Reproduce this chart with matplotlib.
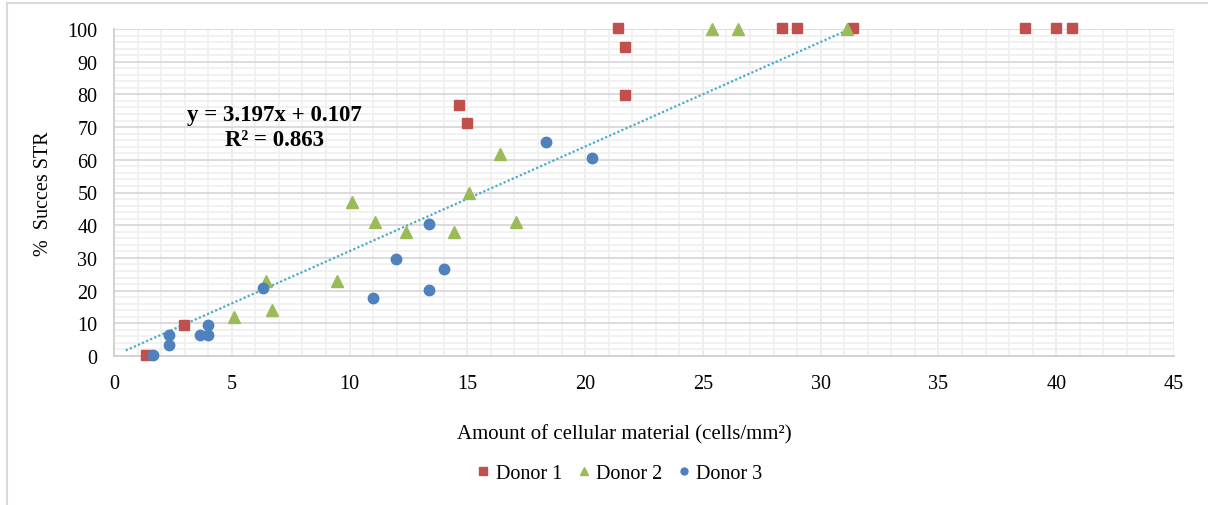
import matplotlib
matplotlib.use("Agg")
import matplotlib.pyplot as plt
from matplotlib.lines import Line2D
from matplotlib.ticker import MultipleLocator
import numpy as np

plt.rcParams['font.family'] = ['Liberation Serif', 'DejaVu Serif']

# data
donor1_x = [1.36, 2.97, 14.66, 15.0, 21.38, 21.7, 21.7, 28.35, 28.98, 31.36, 38.67, 39.99, 40.67]
donor1_y = [0.3, 9.5, 76.7, 71.3, 100.4, 94.6, 79.7, 100.4, 100.4, 100.4, 100.4, 100.4, 100.4]

donor2_x = [5.11, 6.45, 6.71, 9.45, 10.1, 11.08, 12.4, 14.44, 15.07, 16.4, 17.06, 25.37, 26.48, 31.1]
donor2_y = [12.0, 23.0, 14.1, 23.0, 47.0, 41.1, 38.0, 38.0, 49.8, 61.8, 41.0, 100.0, 100.0, 100.0]

donor3_x = [1.67, 2.34, 2.34, 3.64, 3.97, 3.97, 6.33, 11.0, 11.98, 13.37, 13.37, 14.02, 18.36, 20.3]
donor3_y = [0.4, 3.5, 6.5, 6.5, 6.5, 9.4, 20.7, 17.8, 29.7, 40.4, 20.2, 26.7, 65.3, 60.5]

slope, intercept, r2 = 3.197, 0.107, 0.863
trend_x = [0.5, (100.2 - 0.107) / 3.197]

RED = '#c0504d'
GREEN = '#9bbb59'
BLUE = '#4f81bd'
TREND = '#4bacc6'

fig = plt.figure(figsize=(12.08, 5.06), dpi=100)
ax = fig.add_axes([114 / 1208, 1 - 357 / 506, (1174 - 114) / 1208, (357 - 30) / 506])

# grid like excel: light minor, darker horizontal majors
ax.xaxis.set_major_locator(MultipleLocator(5))
ax.xaxis.set_minor_locator(MultipleLocator(1))
ax.yaxis.set_major_locator(MultipleLocator(10))
ax.yaxis.set_minor_locator(MultipleLocator(2))
ax.grid(which='minor', axis='both', color='#f0f0f0', lw=1.3, zorder=0)
ax.grid(which='major', axis='x', color='#ececec', lw=1.3, zorder=0)
ax.grid(which='major', axis='y', color='#d9d9d9', lw=1.3, zorder=0)
ax.set_axisbelow(True)

ax.set_xlim(0, 45)
ax.set_ylim(0, 100)

tx = np.array(trend_x)
ax.plot(tx, slope * tx + intercept, ls=(0, (1, 1)), color=TREND, lw=1.6, zorder=2)

ax.plot(donor1_x, donor1_y, 's', color=RED, ms=7.5, mec=RED, clip_on=False, zorder=3, label='Donor 1')
ax.plot(donor2_x, donor2_y, '^', color=GREEN, ms=8, mec=GREEN, clip_on=False, zorder=3, label='Donor 2')
ax.plot(donor3_x, donor3_y, 'o', color=BLUE, ms=7.5, mec=BLUE, clip_on=False, zorder=3, label='Donor 3')

for side in ['top', 'right']:
    ax.spines[side].set_visible(False)
for side in ['left', 'bottom']:
    ax.spines[side].set_color('#d0d0d0')
    ax.spines[side].set_linewidth(1.3)

ax.tick_params(which='both', length=0)
ax.tick_params(axis='x', labelsize=14.5, pad=13)
ax.tick_params(axis='y', labelsize=14.5, pad=12)

ax.set_xlabel('Amount of cellular material (cells/mm²)', fontsize=15)
ax.xaxis.set_label_coords((624 - 114) / 1060, -(435 - 357) / 327, transform=ax.transAxes)
ax.xaxis.label.set_va('center')
ax.set_ylabel('%  Succes STR', fontsize=14.5, labelpad=10)

ax.text(6.8, 70.0, 'y = %.3fx + %.3f\nR² = %.3f' % (slope, intercept, r2),
        ha='center', va='center', fontsize=16.5, fontweight='bold', linespacing=1.3)

handles = [Line2D([], [], ls='none', marker='s', color=RED, ms=6),
           Line2D([], [], ls='none', marker='^', color=GREEN, ms=6),
           Line2D([], [], ls='none', marker='o', color=BLUE, ms=5)]
fig.legend(handles, ['Donor 1', 'Donor 2', 'Donor 3'], loc='center',
           bbox_to_anchor=(620 / 1208, 1 - 474 / 506), ncol=3, frameon=False,
           fontsize=14.5, handlelength=0.6, handletextpad=0.3, columnspacing=0.8)

# thin chart frame (top and left edges visible in the crop)
fig.add_artist(Line2D([7 / 1208, 1], [1 - 4 / 506, 1 - 4 / 506], color='#d9d9d9', lw=1.5))
fig.add_artist(Line2D([7 / 1208, 7 / 1208], [0, 1 - 4 / 506], color='#d9d9d9', lw=1.5))

fig.savefig('out.png', dpi=100)
